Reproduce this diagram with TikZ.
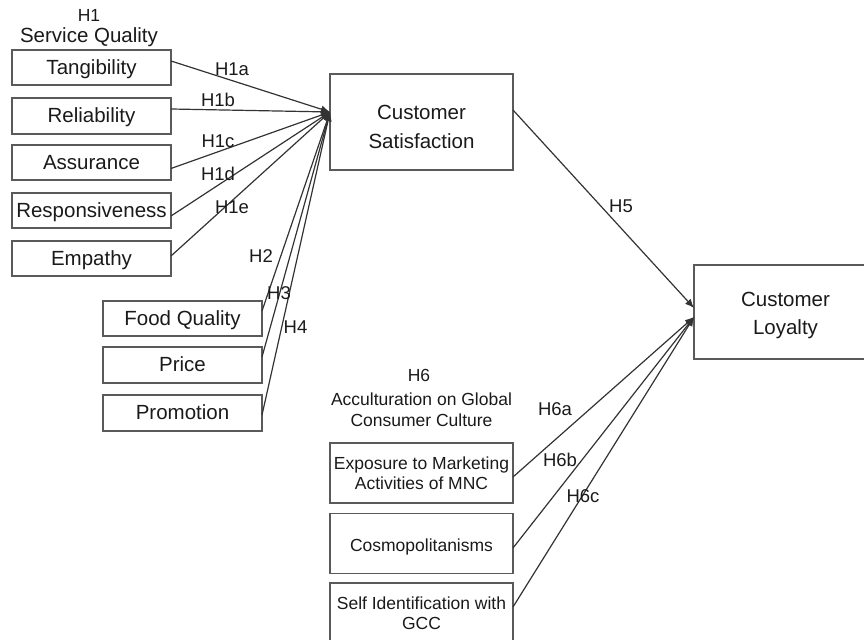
\documentclass[tikz,border=0pt]{standalone}
\usepackage{fontspec}
\setmainfont{Liberation Sans}
\usetikzlibrary{arrows.meta}
\definecolor{boxgray}{HTML}{5A5A5A}
\definecolor{linegray}{HTML}{333333}
\definecolor{txt}{HTML}{1A1A1A}
\begin{document}
\begin{tikzpicture}[x=0.5pt,y=-0.5pt,
  box/.style={draw=boxgray,line width=0.9pt,rectangle,inner sep=0pt,outer sep=0pt,
    align=center,text=txt,font=\fontsize{10.25}{14.25}\selectfont},
  smallbox/.style={box,font=\fontsize{8.75}{10}\selectfont},
  sqbox/.style={box,minimum width=79.5pt,minimum height=17.75pt,text height=7pt,text depth=0pt},
  rbox/.style={smallbox,minimum width=91.5pt,minimum height=30pt},
  hlab/.style={inner sep=0pt,text=txt,font=\fontsize{9.25}{11}\selectfont},
  ttl/.style={inner sep=0pt,text=txt,align=center},
  link/.style={draw=linegray,line width=0.6pt,-{Latex[length=4.5pt,width=3.8pt]}}]
\useasboundingbox (0,0) rectangle (864,640);

% titles
\node[ttl,anchor=base,font=\fontsize{8.75}{10}\selectfont] (t1a) at (89,21.7) {H1};
\node[ttl,anchor=base,font=\fontsize{10.25}{12}\selectfont] (t1b) at (89,42.7) {Service Quality};
\node[ttl,anchor=base,font=\fontsize{8.75}{10}\selectfont] (t6a) at (419,381.7) {H6};
\node[ttl,font=\fontsize{8.75}{10.5}\selectfont] (t6b) at (421.5,410) {Acculturation on Global\\Consumer Culture};

% service quality boxes
\node[sqbox] (tan) at (91.5,67.5) {Tangibility};
\node[sqbox] (rel) at (91.5,116) {Reliability};
\node[sqbox] (ass) at (91.5,162.5) {Assurance};
\node[sqbox] (res) at (91.5,210.5) {Responsiveness};
\node[sqbox] (emp) at (91.5,258.5) {Empathy};

% other antecedents
\node[sqbox] (food) at (182.5,318.5) {Food Quality};
\node[sqbox] (pri) at (182.5,365) {Price};
\node[sqbox] (pro) at (182.5,413) {Promotion};

% outcome boxes
\node[box,minimum width=91.5pt,minimum height=48pt,text height=26.5pt,text depth=0pt] (sat) at (421.5,122) {Customer\\Satisfaction};
\node[box,minimum width=91.5pt,minimum height=47pt,text height=23pt,text depth=0pt] (loy) at (785.5,312) {Customer\\Loyalty};

% acculturation boxes
\node[rbox] (exp) at (421.5,473) {Exposure to Marketing\\Activities of MNC};
\node[rbox,text height=8pt,text depth=0pt] (cos) at (421.5,543.5) {Cosmopolitanisms};
\node[rbox] (self) at (421.5,613) {Self Identification with\\GCC};

% connectors to satisfaction
\draw[link] ([yshift=3.25pt]tan.east) -- ([yshift=5pt]sat.west);
\draw[link] ([yshift=3.5pt]rel.east) -- ([yshift=5pt]sat.west);
\draw[link] ([yshift=-3pt]ass.east) -- ([yshift=5pt]sat.west);
\draw[link] ([yshift=-2.75pt]res.east) -- ([yshift=5pt]sat.west);
\draw[link] ([yshift=1.25pt]emp.east) -- ([yshift=5pt]sat.west);
\draw[link] ([yshift=3.75pt]food.east) -- ([yshift=5pt]sat.west);
\draw[link] ([yshift=4pt]pri.east) -- ([yshift=5pt]sat.west);
\draw[link] ([yshift=-1pt]pro.east) -- ([yshift=5pt]sat.west);

% connectors to loyalty
\draw[link] ([yshift=6pt]sat.east) -- ([yshift=2pt]loy.west);
\draw[link] ([yshift=-2pt]exp.east) -- ([yshift=-2.5pt]loy.west);
\draw[link] ([yshift=-2.25pt]cos.east) -- ([yshift=-2.5pt]loy.west);
\draw[link] ([yshift=3pt]self.east) -- ([yshift=-2.5pt]loy.west);

% hypothesis labels
\node[hlab] (h1a) at (232,69.5) {H1a};
\node[hlab] (h1b) at (218,99.5) {H1b};
\node[hlab] (h1c) at (218,141.5) {H1c};
\node[hlab] (h1d) at (218,174) {H1d};
\node[hlab] (h1e) at (232,207.5) {H1e};
\node[hlab] (h2) at (261,256.5) {H2};
\node[hlab] (h3) at (279,293) {H3};
\node[hlab] (h4) at (295.5,327) {H4};
\node[hlab] (h5) at (621,206.5) {H5};
\node[hlab] (h6a) at (555,409.5) {H6a};
\node[hlab] (h6b) at (560,459.5) {H6b};
\node[hlab] (h6c) at (583,496) {H6c};
\end{tikzpicture}
\end{document}
